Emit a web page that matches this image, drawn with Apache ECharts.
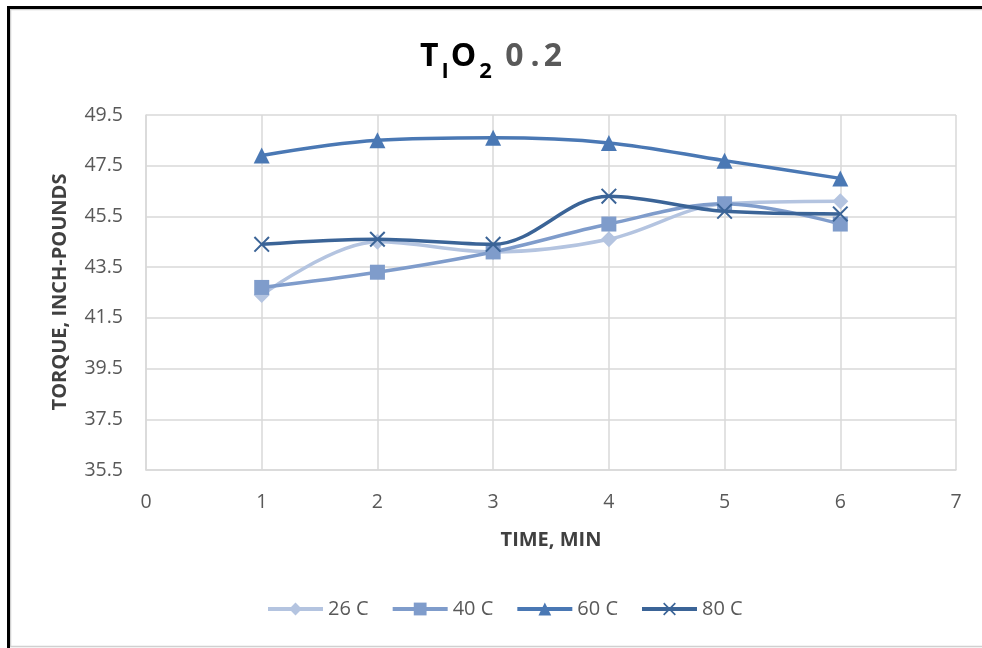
<!DOCTYPE html>
<html>
<head>
<meta charset="utf-8">
<script src="https://cdn.jsdelivr.net/npm/echarts@6/dist/echarts.min.js"></script>
<style>html,body{margin:0;padding:0;background:#fff}#c{width:982px;height:648px}</style>
</head>
<body>
<div id="c"></div>
<script>
const times = [1, 2, 3, 4, 5, 6];
const seriesNames = ['26 C', '40 C', '60 C', '80 C'];
const t26 = [42.4, 44.5, 44.1, 44.6, 46.0, 46.1];
const t40 = [42.7, 43.3, 44.1, 45.2, 46.0, 45.2];
const t60 = [47.9, 48.5, 48.6, 48.4, 47.7, 47.0];
const t80 = [44.4, 44.6, 44.4, 46.3, 45.7, 45.6];
const yTicks = [35.5, 37.5, 39.5, 41.5, 43.5, 45.5, 47.5, 49.5];
const xTicks = [0, 1, 2, 3, 4, 5, 6, 7];

const colors = ['#b4c4e0', '#7f9ccb', '#4a78b4', '#3b6497'];
const symbols = ['diamond', 'rect', 'triangle',
  'path://M0,0.9 L0.9,0 L5,4.1 L9.1,0 L10,0.9 L5.9,5 L10,9.1 L9.1,10 L5,5.9 L0.9,10 L0,9.1 L4.1,5 Z'];
const sizes = [16, 15, 16, 16];
const allData = [t26, t40, t60, t80];

const font = '"Open Sans", "Liberation Sans", sans-serif';
const chart = echarts.init(document.getElementById('c'), null, {renderer: 'canvas'});

const series = seriesNames.map((n, i) => ({
  name: n,
  type: 'line',
  smooth: 0.35,
  data: times.map((t, j) => [t, allData[i][j]]),
  symbol: symbols[i],
  symbolSize: sizes[i],
  color: colors[i],
  lineStyle: {width: 3.5, color: colors[i]},
  itemStyle: {color: colors[i]},
  z: 2 + i
}));

chart.setOption({
  animation: false,
  backgroundColor: '#fff',
  title: {
    text: 'T{s|I}O{s|2}{sp| }{g|0}{gd|.}{g|2}',
    left: 'center',
    top: 26,
    textStyle: {
      fontFamily: font, fontSize: 32, fontWeight: 'bold', color: '#000',
      rich: {
        s: {fontFamily: font, fontSize: 22, fontWeight: 'bold', color: '#000', padding: [30, 2, 0, 3]},
        sp: {fontFamily: font, fontSize: 32, padding: [0, 2, 0, 1]},
        g: {fontFamily: font, fontSize: 32, fontWeight: 'bold', color: '#595959'},
        gd: {fontFamily: font, fontSize: 32, fontWeight: 'bold', color: '#595959', padding: [0, 4, 0, 7]}
      }
    }
  },
  grid: {left: 146, right: 26, top: 115, bottom: 178, containLabel: false},
  legend: {
    data: seriesNames,
    bottom: 24,
    left: 261,
    itemWidth: 55,
    itemHeight: 16,
    itemGap: 22,
    lineStyle: {width: 4},
    textStyle: {fontFamily: font, fontSize: 20, color: '#595959'}
  },
  xAxis: {
    type: 'value',
    min: xTicks[0],
    max: xTicks[xTicks.length - 1],
    interval: 1,
    name: 'TIME, MIN',
    nameLocation: 'middle',
    nameGap: 60,
    nameTextStyle: {fontFamily: font, fontSize: 20, fontWeight: 'bold', color: '#404040'},
    axisLine: {show: true, lineStyle: {color: '#d9d9d9', width: 1.5}},
    axisTick: {show: false},
    splitLine: {show: true, lineStyle: {color: '#d9d9d9', width: 1.5}},
    axisLabel: {fontFamily: font, fontSize: 19.5, color: '#595959', margin: 22}
  },
  yAxis: {
    type: 'value',
    min: yTicks[0],
    max: yTicks[yTicks.length - 1],
    interval: 2,
    axisLine: {show: true, lineStyle: {color: '#d9d9d9', width: 1.5}},
    axisTick: {show: false},
    splitLine: {show: true, lineStyle: {color: '#d9d9d9', width: 1.5}},
    axisLabel: {fontFamily: font, fontSize: 19.5, color: '#595959', margin: 23, formatter: v => v.toFixed(1)}
  },
  graphic: [
    {type: 'rect', shape: {x: 10.5, y: 9.5, width: 990, height: 637}, style: {fill: null, stroke: '#d0d0d0', lineWidth: 1.5}, silent: true, z: -1},
    {type: 'rect', shape: {x: 7, y: 6, width: 980, height: 3}, style: {fill: '#000'}, silent: true},
    {type: 'rect', shape: {x: 7, y: 6, width: 3, height: 650}, style: {fill: '#000'}, silent: true},
    {type: 'text', x: 60, y: 292, rotation: Math.PI / 2,
      style: {text: 'TORQUE, INCH-POUNDS', fontFamily: font, fontSize: 20, fontWeight: 'bold', fill: '#404040', align: 'center', verticalAlign: 'middle'}}
  ],
  series: series
});
</script>
</body>
</html>
